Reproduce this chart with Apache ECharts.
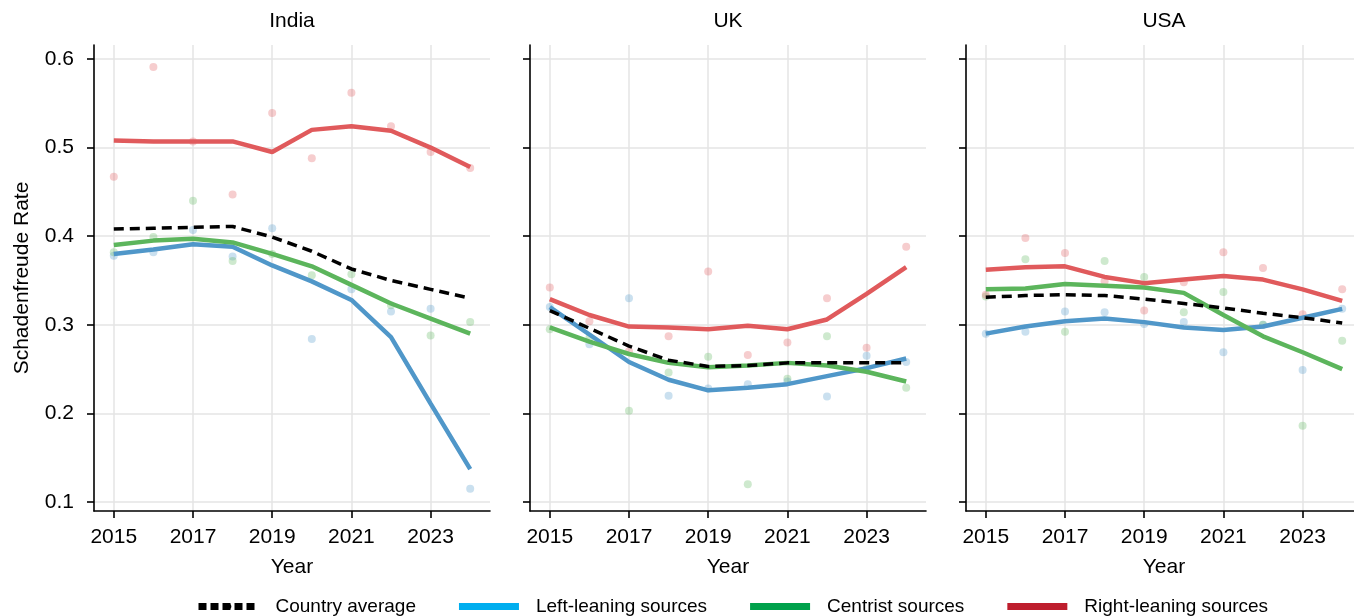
<!DOCTYPE html>
<html>
<head>
<meta charset="utf-8">
<title>Schadenfreude Rate by country</title>
<script src="https://cdn.jsdelivr.net/npm/echarts@6/dist/echarts.min.js"></script>
<style>
  html, body { margin: 0; padding: 0; background: #fff; overflow: hidden; }
  #chart { width: 1366px; height: 616px; }
</style>
</head>
<body>
<div id="chart"></div>
<script>
// years on the x axis and the labelled ticks
const years = [2015, 2016, 2017, 2018, 2019, 2020, 2021, 2022, 2023, 2024]
const xTicks = [2015, 2017, 2019, 2021, 2023]
const yTicks = [0.1, 0.2, 0.3, 0.4, 0.5, 0.6]
const countries = ['India', 'UK', 'USA']

// smoothed lines
const indiaAvg = [0.408, 0.409, 0.410, 0.411, 0.399, 0.383, 0.363, 0.350, 0.340, 0.330]
const indiaLeft = [0.380, 0.385, 0.391, 0.388, 0.367, 0.349, 0.328, 0.286, 0.211, 0.137]
const indiaCentre = [0.390, 0.395, 0.397, 0.393, 0.380, 0.366, 0.345, 0.324, 0.307, 0.290]
const indiaRight = [0.508, 0.507, 0.507, 0.507, 0.495, 0.520, 0.524, 0.519, 0.500, 0.478]

const ukAvg = [0.316, 0.296, 0.276, 0.260, 0.253, 0.254, 0.257, 0.257, 0.257, 0.257]
const ukLeft = [0.320, 0.289, 0.258, 0.238, 0.226, 0.229, 0.233, 0.242, 0.251, 0.262]
const ukCentre = [0.297, 0.281, 0.267, 0.257, 0.252, 0.254, 0.257, 0.254, 0.247, 0.236]
const ukRight = [0.329, 0.311, 0.298, 0.297, 0.295, 0.299, 0.295, 0.306, 0.335, 0.365]

const usAvg = [0.331, 0.333, 0.334, 0.333, 0.329, 0.324, 0.319, 0.313, 0.308, 0.302]
const usLeft = [0.290, 0.298, 0.304, 0.307, 0.303, 0.297, 0.294, 0.298, 0.308, 0.318]
const usCentre = [0.340, 0.341, 0.346, 0.344, 0.342, 0.336, 0.311, 0.287, 0.269, 0.250]
const usRight = [0.362, 0.365, 0.366, 0.354, 0.347, 0.351, 0.355, 0.351, 0.340, 0.327]

// yearly observed rates (faint dots)
const indiaLeftPts = [0.378, 0.382, 0.407, 0.377, 0.409, 0.284, 0.340, 0.315, 0.318, 0.115]
const indiaCentrePts = [0.382, 0.399, 0.440, 0.372, 0.380, 0.356, 0.357, 0.322, 0.288, 0.303]
const indiaRightPts = [0.467, 0.591, 0.507, 0.447, 0.539, 0.488, 0.562, 0.524, 0.495, 0.477]

const ukLeftPts = [0.320, 0.278, 0.330, 0.220, 0.228, 0.233, 0.236, 0.219, 0.265, 0.258]
const ukCentrePts = [0.295, 0.285, 0.203, 0.246, 0.264, 0.120, 0.239, 0.287, 0.250, 0.229]
const ukRightPts = [0.342, 0.304, 0.270, 0.287, 0.360, 0.266, 0.280, 0.330, 0.274, 0.388]

const usLeftPts = [0.290, 0.292, 0.315, 0.314, 0.301, 0.303, 0.269, 0.300, 0.249, 0.318]
const usCentrePts = [0.332, 0.374, 0.292, 0.372, 0.354, 0.314, 0.337, 0.300, 0.186, 0.282]
const usRightPts = [0.334, 0.398, 0.381, 0.349, 0.316, 0.348, 0.382, 0.364, 0.312, 0.340]

const panels = [
  { avg: indiaAvg, left: indiaLeft, centre: indiaCentre, right: indiaRight,
    leftPts: indiaLeftPts, centrePts: indiaCentrePts, rightPts: indiaRightPts },
  { avg: ukAvg, left: ukLeft, centre: ukCentre, right: ukRight,
    leftPts: ukLeftPts, centrePts: ukCentrePts, rightPts: ukRightPts },
  { avg: usAvg, left: usLeft, centre: usCentre, right: usRight,
    leftPts: usLeftPts, centrePts: usCentrePts, rightPts: usRightPts }
]

const FONT = 'Liberation Sans, Arial, sans-serif'
const BLUE = '#5097c9'
const GREEN = '#5cb55c'
const RED = '#e05a5c'
const GRID_LEFT = [94, 530, 966]
const GRID_W = 396

function pairs(vals) {
  return years.map(function (y, i) { return [y, vals[i]] })
}

const grids = []
const xAxes = []
const yAxes = []
const series = []
const graphics = []

GRID_LEFT.forEach(function (left, i) {
  grids.push({ left: left, top: 45, width: GRID_W, height: 466 })
  xAxes.push({
    type: 'value', gridIndex: i, min: 2014.5, max: 2024.5,
    name: 'Year', nameLocation: 'middle', nameGap: 46,
    nameTextStyle: { color: '#000', fontSize: 21, fontFamily: FONT },
    axisLine: { show: true, onZero: false, lineStyle: { color: '#000', width: 1.6 } },
    axisTick: { show: true, customValues: xTicks, length: 7, lineStyle: { color: '#000', width: 1.6 } },
    axisLabel: { customValues: xTicks, color: '#000', fontSize: 21, fontFamily: FONT, margin: 16,
      formatter: function (v) { return String(v) } },
    splitLine: { show: true, lineStyle: { color: '#e4e4e4', width: 1.5 } }
  })
  yAxes.push({
    type: 'value', gridIndex: i, min: 0.0898, max: 0.6158,
    name: i === 0 ? 'Schadenfreude Rate' : '',
    nameLocation: 'middle', nameGap: 61, nameRotate: 90,
    nameTextStyle: { color: '#000', fontSize: 21, fontFamily: FONT },
    axisLine: { show: true, onZero: false, lineStyle: { color: '#000', width: 1.6 } },
    axisTick: { show: true, customValues: yTicks, length: 7, lineStyle: { color: '#000', width: 1.6 } },
    axisLabel: { show: i === 0, customValues: yTicks, color: '#000', fontSize: 21, fontFamily: FONT, margin: 20,
      formatter: function (v) { return v.toFixed(1) } },
    splitLine: { show: true, lineStyle: { color: '#e4e4e4', width: 1.5 } }
  })
  graphics.push({
    type: 'text', x: left + GRID_W / 2, y: 21,
    style: { text: countries[i], fill: '#000', font: '21px ' + FONT, textAlign: 'center', textVerticalAlign: 'middle' }
  })

  const p = panels[i]
  // faint yearly dots
  ;[[p.leftPts, BLUE], [p.centrePts, GREEN], [p.rightPts, RED]].forEach(function (d, k) {
    series.push({
      name: countries[i] + ' pts ' + k, type: 'scatter', xAxisIndex: i, yAxisIndex: i,
      data: pairs(d[0]), symbolSize: 8, z: 1,
      itemStyle: { color: d[1], opacity: 0.3 }, silent: true
    })
  })
  const lineDefs = [
    ['Left-leaning sources', p.left, BLUE],
    ['Centrist sources', p.centre, GREEN],
    ['Right-leaning sources', p.right, RED]
  ]
  lineDefs.forEach(function (d) {
    series.push({
      name: d[0], type: 'line', xAxisIndex: i, yAxisIndex: i,
      data: pairs(d[1]), symbol: 'none', z: 3,
      lineStyle: { color: d[2], width: 4.5 }, itemStyle: { color: d[2] }
    })
  })
  series.push({
    name: 'Country average', type: 'line', xAxisIndex: i, yAxisIndex: i,
    data: pairs(p.avg), symbol: 'none', z: 4,
    lineStyle: { color: '#000', width: 3.5, type: [10, 6] }, itemStyle: { color: '#000' }
  })
})

const chart = echarts.init(document.getElementById('chart'))
chart.setOption({
  animation: false,
  backgroundColor: '#fff',
  graphic: graphics,
  grid: grids,
  xAxis: xAxes,
  yAxis: yAxes,
  legend: {
    left: 190, top: 592, itemWidth: 60, itemHeight: 7, itemGap: 43,
    textStyle: { color: '#000', fontSize: 19, fontFamily: FONT, padding: [0, 0, 0, 12] },
    data: [
      { name: 'Country average', lineStyle: { color: '#000', width: 7, type: [8, 4] } },
      { name: 'Left-leaning sources', icon: 'rect', itemStyle: { color: '#00aeef' } },
      { name: 'Centrist sources', icon: 'rect', itemStyle: { color: '#00a14b' } },
      { name: 'Right-leaning sources', icon: 'rect', itemStyle: { color: '#be1e2d' } }
    ]
  },
  series: series
})
</script>
</body>
</html>
